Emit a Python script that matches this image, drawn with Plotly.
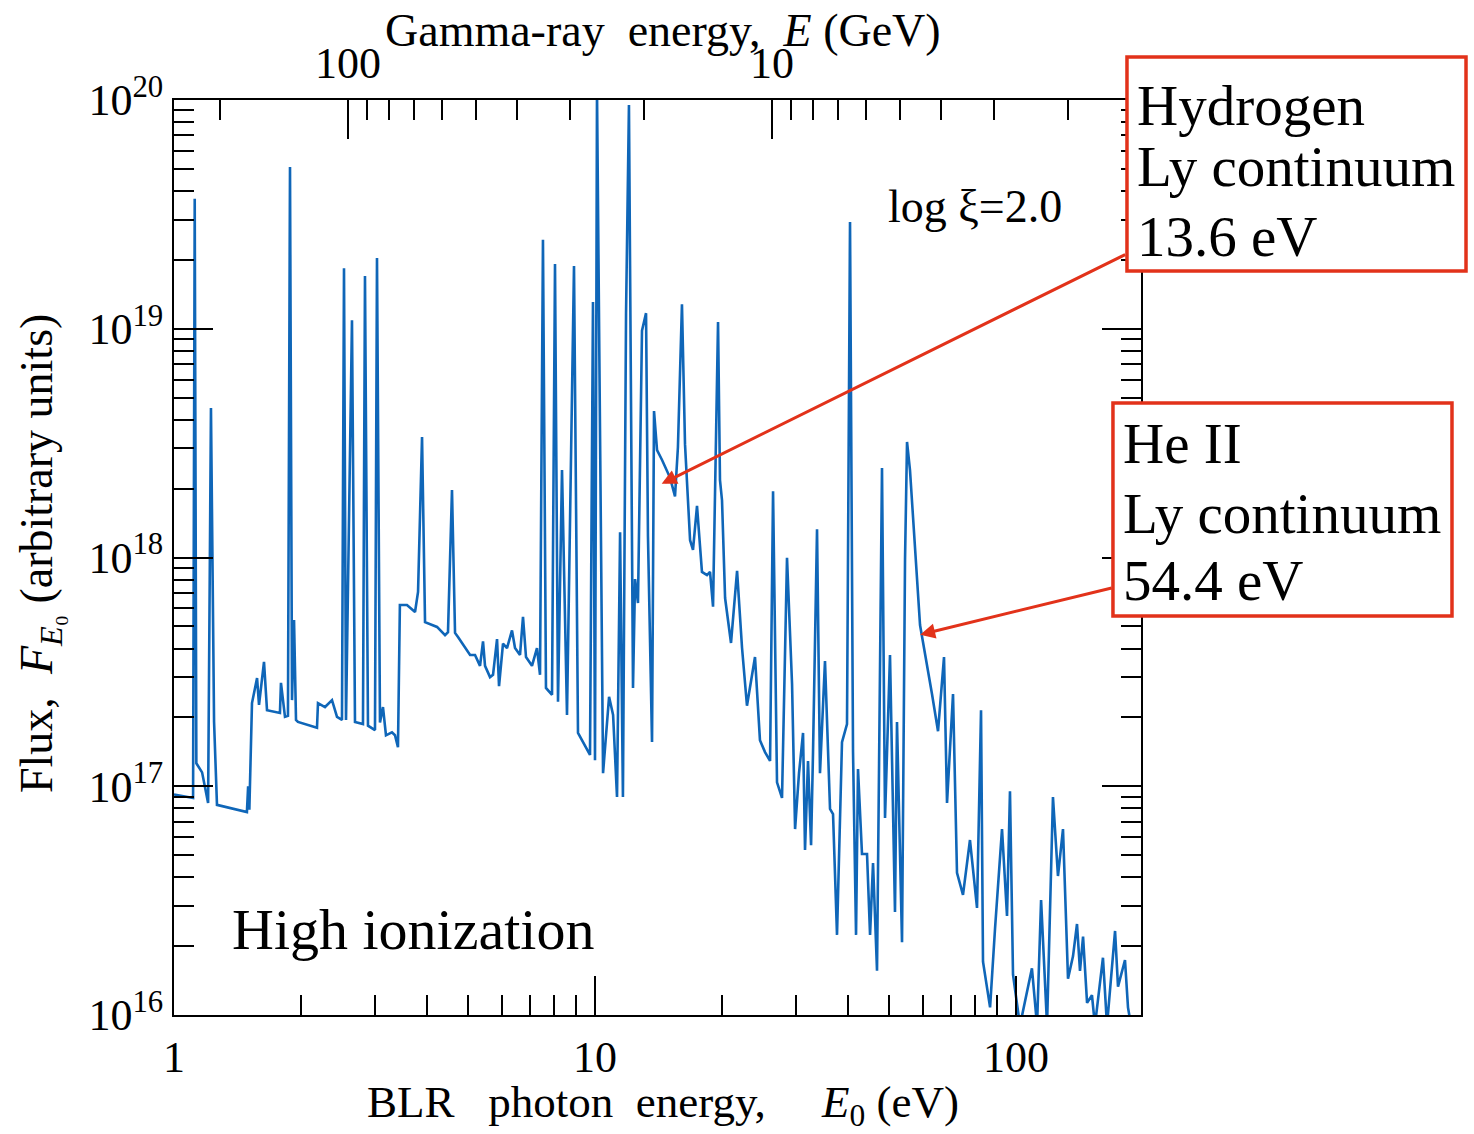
import math
import plotly.graph_objects as go

# ---------------- data ----------------
energy_eV = [
    1.0, 1.09, 1.11, 1.12, 1.13, 1.166, 1.205, 1.224, 1.245, 1.265,
    1.49, 1.50, 1.51, 1.532, 1.575, 1.592, 1.636, 1.663, 1.785, 1.795,
    1.835, 1.865, 1.886, 1.907, 1.928, 1.949, 1.97, 2.186, 2.198, 2.284,
    2.373, 2.439, 2.506, 2.534, 2.562, 2.647, 2.691, 2.811, 2.842, 2.889,
    3.002, 3.035, 3.085, 3.136, 3.188, 3.294, 3.349, 3.404, 3.44, 3.576,
    3.737, 3.799, 3.883, 3.947, 4.215, 4.403, 4.475, 4.574, 4.651, 4.727,
    4.779, 4.912, 5.05, 5.188, 5.332, 5.42, 5.48, 5.632, 5.725, 5.852,
    5.916, 6.046, 6.18, 6.351, 6.457, 6.636, 6.745, 6.857, 7.085, 7.281,
    7.403, 7.523, 7.648, 7.905, 8.035, 8.168, 8.349, 8.58, 8.915, 9.112,
    9.468, 9.73, 9.89, 10.0, 10.11, 10.45, 10.8, 11.04, 11.28, 11.47,
    11.65, 11.85, 12.04, 12.31, 12.45, 12.65, 12.93, 13.22, 13.36, 13.66,
    13.81, 14.04, 14.43, 15.08, 15.49, 15.74, 16.09, 16.36, 16.82, 17.09,
    17.47, 17.95, 18.45, 18.76, 19.07, 19.6, 19.81, 20.03, 20.37, 21.04,
    21.75, 22.35, 22.96, 23.99, 24.65, 25.34, 26.05, 26.48, 27.06, 27.81,
    28.58, 29.38, 29.87, 30.52, 31.2, 31.54, 32.06, 32.6, 32.95, 33.68,
    34.23, 35.18, 36.16, 36.76, 37.57, 38.61, 39.68, 40.34, 41.01, 41.69,
    42.14, 43.07, 44.27, 45.01, 45.75, 46.76, 48.05, 48.85, 50.2, 51.59,
    52.16, 53.61, 54.5, 55.1, 56.0, 59.16, 63.16, 65.28, 67.45, 68.57,
    70.86, 72.42, 74.83, 77.74, 80.8, 82.59, 83.49, 86.78, 89.18, 92.63,
    95.2, 96.76, 98.38, 102.2, 109.1, 112.2, 114.7, 118.5, 122.4, 125.8,
    129.3, 132.9, 136.6, 139.6, 141.9, 144.3, 147.5, 151.5, 154.0, 160.9,
    164.5, 171.9, 174.7, 178.6, 181.5, 184.5, 187.6,
]

flux = [
    9.2e16, 8.97e16, 8.89e16, 3.7e19, 1.26e17, 1.15e17, 8.45e16, 4.5e18, 1.91e17, 8.29e16,
    7.71e16, 1.0e17, 7.9e16, 2.31e17, 2.97e17, 2.27e17, 3.5e17, 2.15e17, 2.09e17, 2.83e17,
    2.01e17, 2.03e17, 5.1e19, 2.38e17, 5.33e17, 1.95e17, 1.91e17, 1.80e17, 2.31e17, 2.22e17,
    2.38e17, 2.01e17, 1.95e17, 1.84e19, 1.95e17, 1.09e19, 1.91e17, 1.87e17, 1.70e19, 1.84e17,
    1.76e17, 2.04e19, 1.90e17, 2.22e17, 1.67e17, 1.72e17, 1.67e17, 1.48e17, 6.2e17, 6.2e17,
    5.78e17, 7.07e17, 3.36e18, 5.22e17, 4.97e17, 4.58e17, 4.72e17, 1.97e18, 4.68e17, 4.49e17,
    4.36e17, 4.02e17, 3.75e17, 3.75e17, 3.36e17, 4.3e17, 3.36e17, 3.0e17, 3.07e17, 4.4e17,
    2.74e17, 4.2e17, 4.02e17, 4.8e17, 4.02e17, 3.75e17, 5.5e17, 3.67e17, 3.36e17, 4.02e17,
    3.07e17, 2.45e19, 2.69e17, 2.51e17, 1.92e19, 2.34e17, 2.41e18, 2.05e17, 1.88e19, 1.71e17,
    1.50e17, 1.37e17, 1.31e19, 1.30e17, 1.1e20, 1.14e17, 2.46e17, 2.05e17, 8.97e16, 1.29e18,
    8.97e16, 1.17e19, 9.5e19, 2.69e17, 8.05e17, 6.32e17, 9.8e18, 1.17e19, 1.24e18, 1.56e17,
    4.37e18, 2.95e18, 2.67e18, 2.23e18, 1.85e18, 3.04e18, 1.28e19, 3.13e18, 1.19e18, 1.08e18,
    1.68e18, 8.65e17, 8.37e17, 8.65e17, 6.1e17, 1.07e19, 2.18e18, 1.78e18, 6.65e17, 4.23e17,
    8.74e17, 4.02e17, 2.25e17, 3.67e17, 1.59e17, 1.41e17, 1.29e17, 1.95e18, 1.04e17, 8.89e16,
    9.96e17, 2.8e17, 6.5e16, 1.14e17, 1.71e17, 5.26e16, 1.29e17, 5.53e16, 1.41e17, 1.33e18,
    1.14e17, 3.53e17, 7.96e16, 7.56e16, 2.24e16, 1.56e17, 1.87e17, 2.93e19, 1.41e17, 2.24e16,
    1.19e17, 5.06e16, 5.06e16, 2.24e16, 4.62e16, 1.56e16, 2.46e18, 7.26e16, 3.75e17, 2.82e16,
    1.91e17, 2.08e16, 9.8e17, 3.2e18, 2.41e18, 5.07e17, 2.53e17, 1.74e17, 3.67e17, 8.45e16,
    2.53e17, 4.18e16, 3.35e16, 5.82e16, 2.94e16, 2.15e17, 1.71e16, 1.08e16, 2.4e16, 6.5e16,
    2.71e16, 9.5e16, 1.5e16, 9.0e15, 1.6e16, 9.0e15, 3.18e16, 9.0e15, 8.97e16, 4.05e16,
    6.5e16, 1.44e16, 1.81e16, 2.5e16, 1.56e16, 2.2e16, 1.13e16, 1.22e16, 9.0e15, 1.78e16,
    9.0e15, 2.33e16, 1.33e16, 1.56e16, 1.74e16, 1.08e16, 9.0e15,
]

# axis ticks
x_ticks = [1, 10, 100]
x_ticktext = ["1", "10", "100"]
x_minor = [2, 3, 4, 5, 6, 7, 8, 9, 20, 30, 40, 50, 60, 70, 80, 90]
y_ticks = [1e16, 1e17, 1e18, 1e19, 1e20]
y_ticktext = ["10<sup>16</sup>", "10<sup>17</sup>", "10<sup>18</sup>", "10<sup>19</sup>", "10<sup>20</sup>"]
y_minor = [k * 10.0 ** n for n in range(16, 20) for k in range(2, 10)]
gev_ticks = [100, 10]
gev_ticktext = ["100", "10"]
gev_minor = [200, 90, 80, 70, 60, 50, 40, 30, 20, 9, 8, 7, 6, 5, 4, 3, 2]

# annotation anchors (data units)
h_tip = (14.4, 2.1e18)
he_tip = (59.2, 4.6e17)

FONT = "Liberation Serif"
RED = "#e2321a"
BLUE = "#0f66b8"

fig = go.Figure()
fig.add_trace(go.Scatter(
    x=energy_eV, y=flux, mode="lines",
    line=dict(color=BLUE, width=2.6),
    showlegend=False, hoverinfo="skip",
))
# invisible helper trace so the top (GeV) axis is drawn
fig.add_trace(go.Scatter(
    x=gev_ticks, y=[1e18, 1e18], xaxis="x2", mode="markers",
    marker=dict(opacity=0), showlegend=False, hoverinfo="skip",
))

axis_common = dict(
    showline=True, linecolor="black", linewidth=2,
    ticks="inside", ticklen=39, tickwidth=2, tickcolor="black",
    showgrid=False, zeroline=False,
    tickfont=dict(family=FONT, size=44, color="black"),
)

fig.update_layout(
    width=1474, height=1134, autosize=False,
    margin=dict(l=174, r=333, t=100, b=119),
    paper_bgcolor="white", plot_bgcolor="white",
    font=dict(family=FONT, color="black"),
    xaxis=dict(
        type="log", range=[0, 2.2969],
        tickmode="array", tickvals=x_ticks, ticktext=x_ticktext,
        ticklabelstandoff=2,
        minor=dict(tickmode="array", tickvals=x_minor, ticks="inside",
                   ticklen=20, tickwidth=2, tickcolor="black"),
        **axis_common,
    ),
    xaxis2=dict(
        type="log", range=[2.4104, 0.1297], overlaying="x", side="top",
        tickmode="array", tickvals=gev_ticks, ticktext=gev_ticktext,
        ticklabelstandoff=2,
        minor=dict(tickmode="array", tickvals=gev_minor, ticks="inside",
                   ticklen=20, tickwidth=2, tickcolor="black"),
        **axis_common,
    ),
    yaxis=dict(
        type="log", range=[16, 20], mirror="ticks",
        tickmode="array", tickvals=y_ticks, ticktext=y_ticktext,
        minor=dict(tickmode="array", tickvals=y_minor, ticks="inside",
                   ticklen=20, tickwidth=2, tickcolor="black"),
        **axis_common,
    ),
)

NB = "\u00a0"
annotations = [
    # axis titles
    dict(text=f"BLR{NB*3}photon{NB*2}energy,{NB*5}<i>E</i><sub>0</sub>{NB}(eV)",
         x=0.5057, y=-0.0984, font=dict(size=45)),
    dict(text=f"Gamma-ray{NB*2}energy,{NB*2}<i>E</i>{NB}(GeV)",
         x=0.5057, y=1.0765, font=dict(size=46)),
    dict(text=f"Flux,{NB*2}<i>F</i><sub><i>E</i>\u2080</sub>{NB}(arbitrary{NB}units)",
         x=-0.1386, y=0.5049, textangle=-90, font=dict(size=46)),
    # in-plot labels
    dict(text="High ionization", x=0.2472, y=0.0929, font=dict(size=58)),
    dict(text=f"log{NB}\u03be=2.0", x=0.8283, y=0.8831, font=dict(size=46)),
    # Hydrogen box text
    dict(text="Hydrogen", x=0.9938, y=0.9945, xanchor="left", font=dict(size=57)),
    dict(text="Ly continuum", x=0.9938, y=0.9268, xanchor="left", font=dict(size=57)),
    dict(text="13.6 eV", x=0.9938, y=0.8503, xanchor="left", font=dict(size=57)),
    # He II box text
    dict(text="He II", x=0.9793, y=0.6251, xanchor="left", font=dict(size=57)),
    dict(text="Ly continuum", x=0.9793, y=0.5486, xanchor="left", font=dict(size=57)),
    dict(text="54.4 eV", x=0.9793, y=0.4754, xanchor="left", font=dict(size=57)),
]
for a in annotations:
    a.setdefault("xref", "paper")
    a.setdefault("yref", "paper")
    a.setdefault("showarrow", False)
    a.setdefault("xanchor", "center")
    a.setdefault("yanchor", "middle")
    a["font"] = dict(family=FONT, color="black", **a["font"])
    fig.add_annotation(**a)

# arrows pointing at the continua edges
for tip, ax, ay in [(h_tip, 465, -230), (he_tip, 193, -47)]:
    fig.add_annotation(
        x=math.log10(tip[0]), y=math.log10(tip[1]), xref="x", yref="y",
        text="", showarrow=True, ax=ax, ay=ay,
        arrowhead=2, arrowsize=1.0, arrowwidth=3, arrowcolor=RED, standoff=0,
    )

# red boxes
for x0, x1, y0, y1 in [(0.9855, 1.3361, 0.8131, 1.0470), (0.9710, 1.3216, 0.4361, 0.6689)]:
    fig.add_shape(type="rect", xref="paper", yref="paper",
                  x0=x0, x1=x1, y0=y0, y1=y1, layer="above",
                  fillcolor="white", line=dict(color=RED, width=3.5))

fig.write_html("out.html")
